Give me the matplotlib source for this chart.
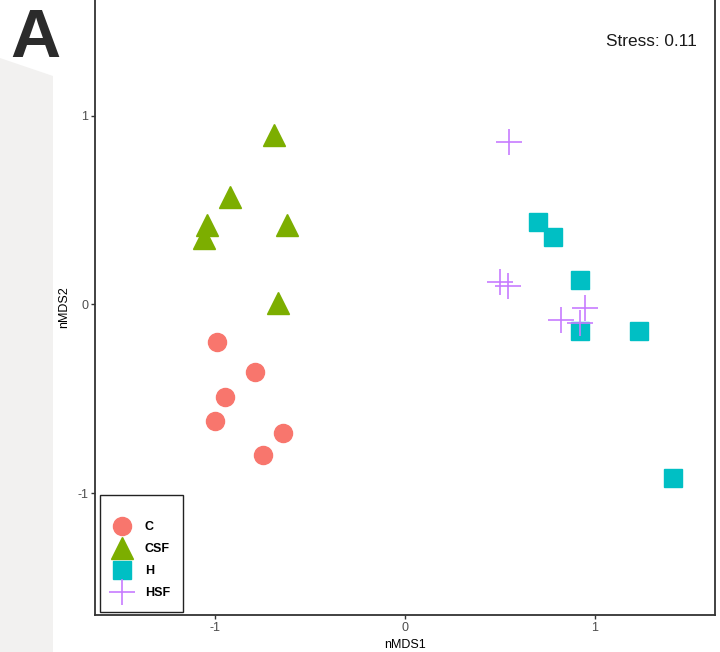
#!/usr/bin/env python3
"""nMDS ordination panel A: four treatment groups, stress annotation."""

import matplotlib

matplotlib.use("Agg")
import matplotlib.pyplot as plt
from matplotlib.patches import Polygon

plt.rcParams["font.family"] = ["Liberation Sans", "DejaVu Sans"]
plt.rcParams["axes.unicode_minus"] = False

# nMDS scores
groups = ["C", "CSF", "H", "HSF"]
c_x = [-0.99, -0.79, -0.95, -1.00, -0.64, -0.75]
c_y = [-0.20, -0.36, -0.49, -0.62, -0.68, -0.80]
csf_x = [-0.69, -0.92, -1.04, -1.06, -0.62, -0.67]
csf_y = [0.90, 0.57, 0.42, 0.35, 0.42, 0.01]
h_x = [0.70, 0.78, 0.92, 0.92, 1.23, 1.41]
h_y = [0.44, 0.36, 0.13, -0.14, -0.14, -0.92]
hsf_x = [0.55, 0.50, 0.54, 0.82, 0.95, 0.92]
hsf_y = [0.86, 0.12, 0.10, -0.08, -0.02, -0.10]
stress = 0.11

colors = {"C": "#F8766D", "CSF": "#7CAE00", "H": "#00BFC4", "HSF": "#C77CFF"}

fig = plt.figure(figsize=(7.2, 6.52), dpi=100)

# light grey page strip behind the panel on the left
fig.patches.append(
    Polygon(
        [(0, 1 - 58 / 652), (53 / 720, 1 - 76 / 652), (53 / 720, 0), (0, 0)],
        closed=True, transform=fig.transFigure, facecolor="#f2f1f0",
        edgecolor="none", zorder=-1,
    )
)

ax = fig.add_axes([95 / 720, 37 / 652, 620 / 720, 615 / 652])
ax.set_facecolor("white")

ax.plot(c_x, c_y, "o", ms=13, color=colors["C"], mec=colors["C"], label="C", ls="none")
ax.plot(csf_x, csf_y, "^", ms=16, color=colors["CSF"], mec=colors["CSF"], label="CSF", ls="none")
ax.plot(h_x, h_y, "s", ms=12.5, color=colors["H"], mec=colors["H"], label="H", ls="none")
ax.plot(hsf_x, hsf_y, "+", ms=19, mew=1.2, color=colors["HSF"], label="HSF", ls="none")

ax.set_xlim(-1.632, 1.632)
ax.set_ylim(-1.647, 1.615)
ax.set_xticks([-1, 0, 1])
ax.set_yticks([-1, 0, 1])
ax.tick_params(length=3, width=1, color="#333333", labelsize=9, labelcolor="#4d4d4d", pad=2)

for side in ["left", "bottom", "right"]:
    ax.spines[side].set_linewidth(1.3)
    ax.spines[side].set_color("#333333")
ax.spines["top"].set_visible(False)

ax.set_xlabel("nMDS1", fontsize=9, labelpad=4)
ax.set_ylabel("nMDS2", fontsize=9, labelpad=5)

ax.text(0.897, 1 - 41 / 615, f"Stress: {stress}", transform=ax.transAxes,
        ha="center", va="center", fontsize=12.4, color="#1a1a1a")

leg = ax.legend(
    loc="lower left", bbox_to_anchor=(0.008, 0.005), borderaxespad=0,
    title=" ", title_fontsize=3, prop={"size": 9, "weight": "bold"},
    frameon=True, fancybox=False, edgecolor="#222222", framealpha=1,
    labelspacing=0.8, handlelength=1.5, handletextpad=1.1, borderpad=1.0,
)
leg.get_frame().set_linewidth(1.0)

fig.text(10 / 720, 1 - 57 / 652, "A", fontsize=50, fontweight="bold",
         color="#2b2b2b", va="baseline", ha="left")

fig.savefig("out.png", dpi=100)
plt.close(fig)
